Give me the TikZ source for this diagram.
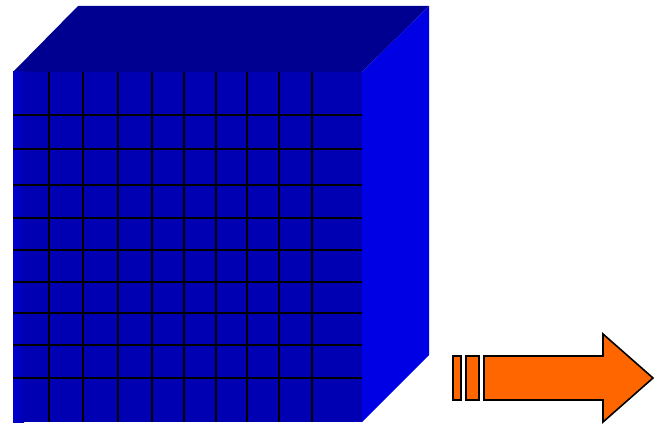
\documentclass[tikz,border=0pt]{standalone}
\usetikzlibrary{calc}
\definecolor{frontblue}{RGB}{0,0,178}
\definecolor{topblue}{RGB}{0,0,144}
\definecolor{sideblue}{RGB}{0,0,228}
\definecolor{arroworange}{RGB}{255,102,0}
\begin{document}
\begin{tikzpicture}[x=1pt,y=-1pt,
  gridline/.style={black,line width=2pt},
  arrowpart/.style={fill=arroworange,draw=black,line width=1.6pt,line join=miter}]
\useasboundingbox (0,0) rectangle (663,425);
% faces
\coordinate (ftl) at (13,72);
\coordinate (ftr) at (362,72);
\coordinate (fbr) at (362,422);
\coordinate (fbl) at (13,422);
\coordinate (btl) at (78,6);
\coordinate (btr) at (429,6);
\coordinate (bbr) at (429,355);
\fill[topblue] (ftl) -- (btl) -- (btr) -- (ftr) -- cycle;
\fill[sideblue] (ftr) -- (btr) -- (bbr) -- (fbr) -- cycle;
\fill[frontblue] (ftl) rectangle (fbr);
\shade[left color=blue!40!frontblue,right color=frontblue] (13,72) rectangle (24,422);
% grid
\foreach \x in {49,83,118,152,184,216,247,279,312}
  \draw[gridline] (\x,72) -- (\x,422);
\foreach \y in {115,149,185,218,250,282,313,345,378}
  \draw[gridline] (13,\y) -- (362,\y);
% striped arrow
\draw[arrowpart] (453,356) rectangle (461,400);
\draw[arrowpart] (466,356) rectangle (479,400);
\draw[arrowpart] (484,356) -- (603,356) -- (603,334) -- (653,378) -- (603,422) -- (603,400) -- (484,400) -- cycle;
\end{tikzpicture}
\end{document}
